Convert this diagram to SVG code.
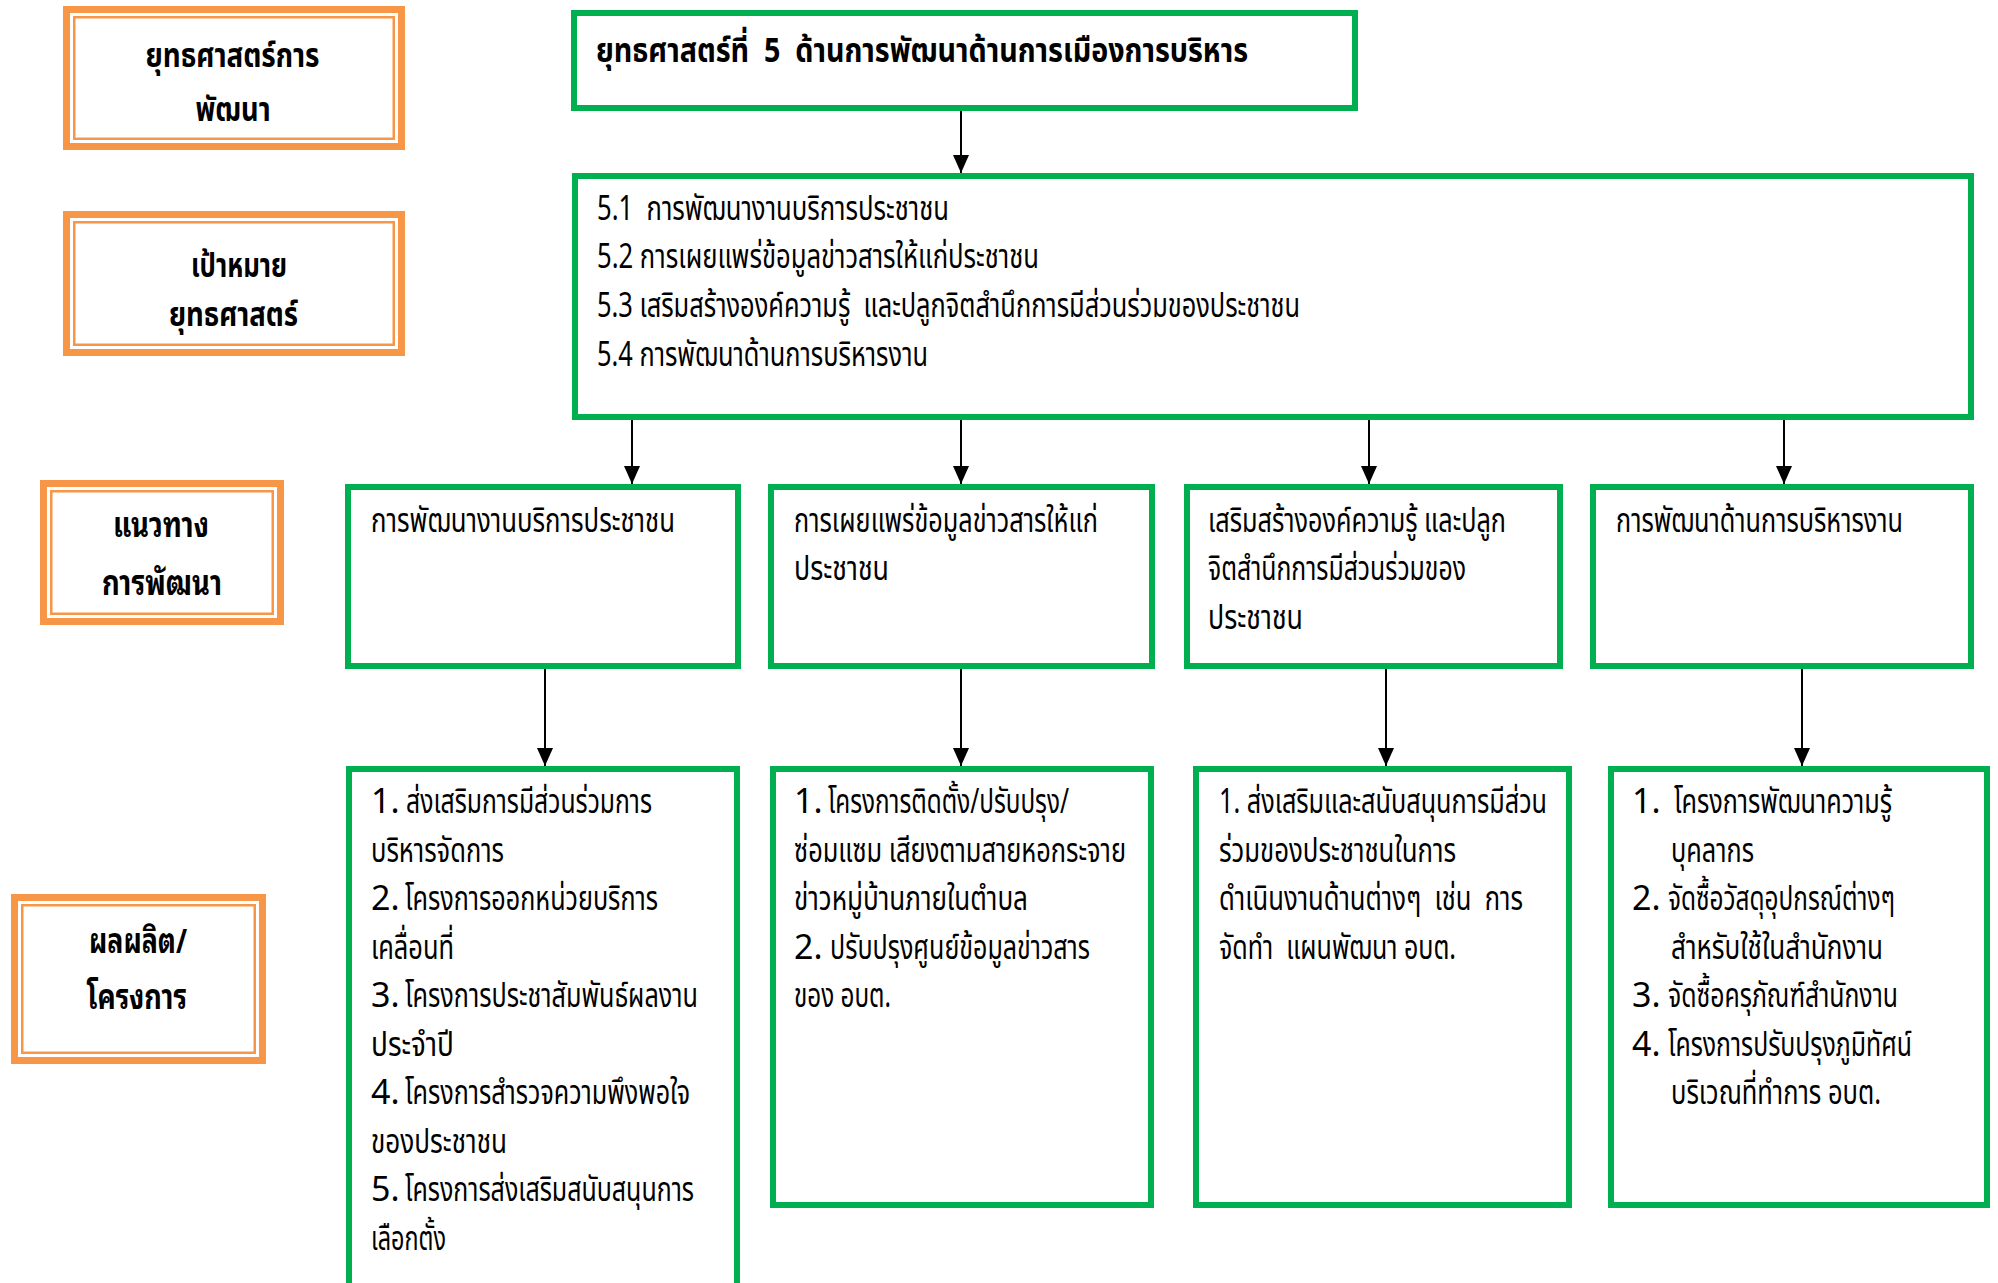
<svg xmlns="http://www.w3.org/2000/svg" width="1998" height="1283" viewBox="0 0 1998 1283">
<style>
text{font-family:"Noto Sans Thai","Noto Sans Thai UI","Noto Sans","DejaVu Sans",sans-serif;font-size:34px;fill:#000;white-space:pre}
.b{font-weight:bold;font-size:34px}
.t{font-weight:bold;font-size:34px}
.lp{font-family:"Noto Sans Thai Looped","Noto Sans Thai","Noto Sans","DejaVu Sans",sans-serif}
.g{fill:#fff;stroke:#00B050;stroke-width:6}
.o1{fill:#fff;stroke:#F79646;stroke-width:7}
.o2{fill:none;stroke:#F79646;stroke-width:2.5}
.cn{stroke:#000;stroke-width:2;fill:none;marker-end:url(#ah)}
</style>
<defs>
<marker id="ah" markerUnits="userSpaceOnUse" markerWidth="18" markerHeight="16" refX="18" refY="8" orient="auto">
<path d="M0,0 L18,8 L0,16 z" fill="#000"/>
</marker>
</defs>
<rect width="1998" height="1283" fill="#fff"/>

<g id="label-strategy">
<rect class="o1" x="66.5" y="9.5" width="335" height="137"/>
<rect class="o2" x="74.25" y="17.25" width="319.5" height="121.5"/>
<text class="b" x="145.5" y="67" textLength="174" lengthAdjust="spacingAndGlyphs">ยุทธศาสตร์การ</text>
<text class="b" x="195.5" y="121" textLength="75" lengthAdjust="spacingAndGlyphs">พัฒนา</text>
</g>
<g id="label-goal">
<rect class="o1" x="66.5" y="214.5" width="335" height="138"/>
<rect class="o2" x="74.25" y="222.25" width="319.5" height="122.5"/>
<text class="b" x="191" y="277" textLength="96" lengthAdjust="spacingAndGlyphs">เป้าหมาย</text>
<text class="b" x="169" y="326" textLength="129" lengthAdjust="spacingAndGlyphs">ยุทธศาสตร์</text>
</g>
<g id="label-approach">
<rect class="o1" x="43.5" y="483.5" width="237" height="138"/>
<rect class="o2" x="51.25" y="491.25" width="221.5" height="122.5"/>
<text class="b lp" x="113" y="537" textLength="96" lengthAdjust="spacingAndGlyphs">แนวทาง</text>
<text class="b lp" x="102" y="595" textLength="120" lengthAdjust="spacingAndGlyphs">การพัฒนา</text>
</g>
<g id="label-output">
<rect class="o1" x="14.5" y="897.5" width="248" height="163"/>
<rect class="o2" x="22.25" y="905.25" width="232.5" height="147.5"/>
<text class="b lp" x="89" y="953" textLength="98" lengthAdjust="spacingAndGlyphs">ผลผลิต/</text>
<text class="b lp" x="87" y="1009" textLength="100" lengthAdjust="spacingAndGlyphs">โครงการ</text>
</g>

<g id="connectors">
<line class="cn" x1="961" y1="111" x2="961" y2="173"/>
<line class="cn" x1="632" y1="420" x2="632" y2="484"/>
<line class="cn" x1="961" y1="420" x2="961" y2="484"/>
<line class="cn" x1="1369" y1="420" x2="1369" y2="484"/>
<line class="cn" x1="1784" y1="420" x2="1784" y2="484"/>
<line class="cn" x1="545" y1="669" x2="545" y2="766"/>
<line class="cn" x1="961" y1="669" x2="961" y2="766"/>
<line class="cn" x1="1386" y1="669" x2="1386" y2="766"/>
<line class="cn" x1="1802" y1="669" x2="1802" y2="766"/>
</g>

<g id="strategy">
<rect class="g" x="574" y="13" width="781" height="95"/>
<text class="t" x="596" y="62" textLength="652" lengthAdjust="spacingAndGlyphs">ยุทธศาสตร์ที่  5  ด้านการพัฒนาด้านการเมืองการบริหาร</text>
</g>

<g id="goals">
<rect class="g" x="575" y="176" width="1396" height="241"/>
<text x="597" y="220" textLength="352" lengthAdjust="spacingAndGlyphs">5.1  การพัฒนางานบริการประชาชน</text>
<text x="597" y="268" textLength="442" lengthAdjust="spacingAndGlyphs">5.2 การเผยแพร่ข้อมูลข่าวสารให้แก่ประชาชน</text>
<text x="597" y="317" textLength="703" lengthAdjust="spacingAndGlyphs">5.3 เสริมสร้างองค์ความรู้  และปลูกจิตสำนึกการมีส่วนร่วมของประชาชน</text>
<text x="597" y="366" textLength="331" lengthAdjust="spacingAndGlyphs">5.4 การพัฒนาด้านการบริหารงาน</text>
</g>

<g id="approach-1">
<rect class="g" x="348" y="487" width="390" height="179"/>
<text x="371" y="532" textLength="304" lengthAdjust="spacingAndGlyphs">การพัฒนางานบริการประชาชน</text>
</g>
<g id="approach-2">
<rect class="g" x="771" y="487" width="381" height="179"/>
<text x="794" y="532" textLength="304" lengthAdjust="spacingAndGlyphs">การเผยแพร่ข้อมูลข่าวสารให้แก่</text>
<text x="794" y="580" textLength="95" lengthAdjust="spacingAndGlyphs">ประชาชน</text>
</g>
<g id="approach-3">
<rect class="g" x="1187" y="487" width="373" height="179"/>
<text x="1208" y="532" textLength="298" lengthAdjust="spacingAndGlyphs">เสริมสร้างองค์ความรู้ และปลูก</text>
<text x="1208" y="580" textLength="258" lengthAdjust="spacingAndGlyphs">จิตสำนึกการมีส่วนร่วมของ</text>
<text x="1208" y="629" textLength="95" lengthAdjust="spacingAndGlyphs">ประชาชน</text>
</g>
<g id="approach-4">
<rect class="g" x="1593" y="487" width="378" height="179"/>
<text x="1616" y="532" textLength="287" lengthAdjust="spacingAndGlyphs">การพัฒนาด้านการบริหารงาน</text>
</g>

<g id="projects-1">
<rect class="g" x="349" y="769" width="388" height="540"/>
<text x="371" y="813">1.</text>
<text x="406" y="813" textLength="246" lengthAdjust="spacingAndGlyphs">ส่งเสริมการมีส่วนร่วมการ</text>
<text x="371" y="861.5" textLength="133" lengthAdjust="spacingAndGlyphs">บริหารจัดการ</text>
<text x="371" y="910">2.</text>
<text x="405" y="910" textLength="253" lengthAdjust="spacingAndGlyphs">โครงการออกหน่วยบริการ</text>
<text x="371" y="958.5" textLength="83" lengthAdjust="spacingAndGlyphs">เคลื่อนที่</text>
<text x="371" y="1007">3.</text>
<text x="405" y="1007" textLength="293" lengthAdjust="spacingAndGlyphs">โครงการประชาสัมพันธ์ผลงาน</text>
<text x="371" y="1055.5" textLength="83" lengthAdjust="spacingAndGlyphs">ประจำปี</text>
<text x="371" y="1104">4.</text>
<text x="405" y="1104" textLength="285" lengthAdjust="spacingAndGlyphs">โครงการสำรวจความพึงพอใจ</text>
<text x="371" y="1152.5" textLength="136" lengthAdjust="spacingAndGlyphs">ของประชาชน</text>
<text x="371" y="1201">5.</text>
<text x="405" y="1201" textLength="289" lengthAdjust="spacingAndGlyphs">โครงการส่งเสริมสนับสนุนการ</text>
<text x="371" y="1249.5" textLength="75" lengthAdjust="spacingAndGlyphs">เลือกตั้ง</text>
</g>
<g id="projects-2">
<rect class="g" x="773" y="769" width="378" height="436"/>
<text x="794" y="813">1.</text>
<text x="828" y="813" textLength="241" lengthAdjust="spacingAndGlyphs">โครงการติดตั้ง/ปรับปรุง/</text>
<text x="794" y="861.5" textLength="332" lengthAdjust="spacingAndGlyphs">ซ่อมแซม เสียงตามสายหอกระจาย</text>
<text x="794" y="910" textLength="234" lengthAdjust="spacingAndGlyphs">ข่าวหมู่บ้านภายในตำบล</text>
<text x="794" y="958.5">2.</text>
<text x="830" y="958.5" textLength="260" lengthAdjust="spacingAndGlyphs">ปรับปรุงศูนย์ข้อมูลข่าวสาร</text>
<text x="794" y="1007" textLength="97" lengthAdjust="spacingAndGlyphs">ของ อบต.</text>
</g>
<g id="projects-3">
<rect class="g" x="1196" y="769" width="373" height="436"/>
<text x="1219" y="813" textLength="328" lengthAdjust="spacingAndGlyphs">1. ส่งเสริมและสนับสนุนการมีส่วน</text>
<text x="1219" y="861.5" textLength="237" lengthAdjust="spacingAndGlyphs">ร่วมของประชาชนในการ</text>
<text x="1219" y="910" textLength="304" lengthAdjust="spacingAndGlyphs">ดำเนินงานด้านต่างๆ  เช่น  การ</text>
<text x="1219" y="958.5" textLength="237" lengthAdjust="spacingAndGlyphs">จัดทำ  แผนพัฒนา อบต.</text>
</g>
<g id="projects-4">
<rect class="g" x="1611" y="769" width="376" height="436"/>
<text x="1632" y="813">1.</text>
<text x="1674" y="813" textLength="218" lengthAdjust="spacingAndGlyphs">โครงการพัฒนาความรู้</text>
<text x="1671" y="861.5" textLength="83" lengthAdjust="spacingAndGlyphs">บุคลากร</text>
<text x="1632" y="910">2.</text>
<text x="1668" y="910" textLength="227" lengthAdjust="spacingAndGlyphs">จัดซื้อวัสดุอุปกรณ์ต่างๆ</text>
<text x="1671" y="958.5" textLength="212" lengthAdjust="spacingAndGlyphs">สำหรับใช้ในสำนักงาน</text>
<text x="1632" y="1007">3.</text>
<text x="1668" y="1007" textLength="230" lengthAdjust="spacingAndGlyphs">จัดซื้อครุภัณฑ์สำนักงาน</text>
<text x="1632" y="1055.5">4.</text>
<text x="1668" y="1055.5" textLength="244" lengthAdjust="spacingAndGlyphs">โครงการปรับปรุงภูมิทัศน์</text>
<text x="1671" y="1104" textLength="210" lengthAdjust="spacingAndGlyphs">บริเวณที่ทำการ อบต.</text>
</g>
</svg>
